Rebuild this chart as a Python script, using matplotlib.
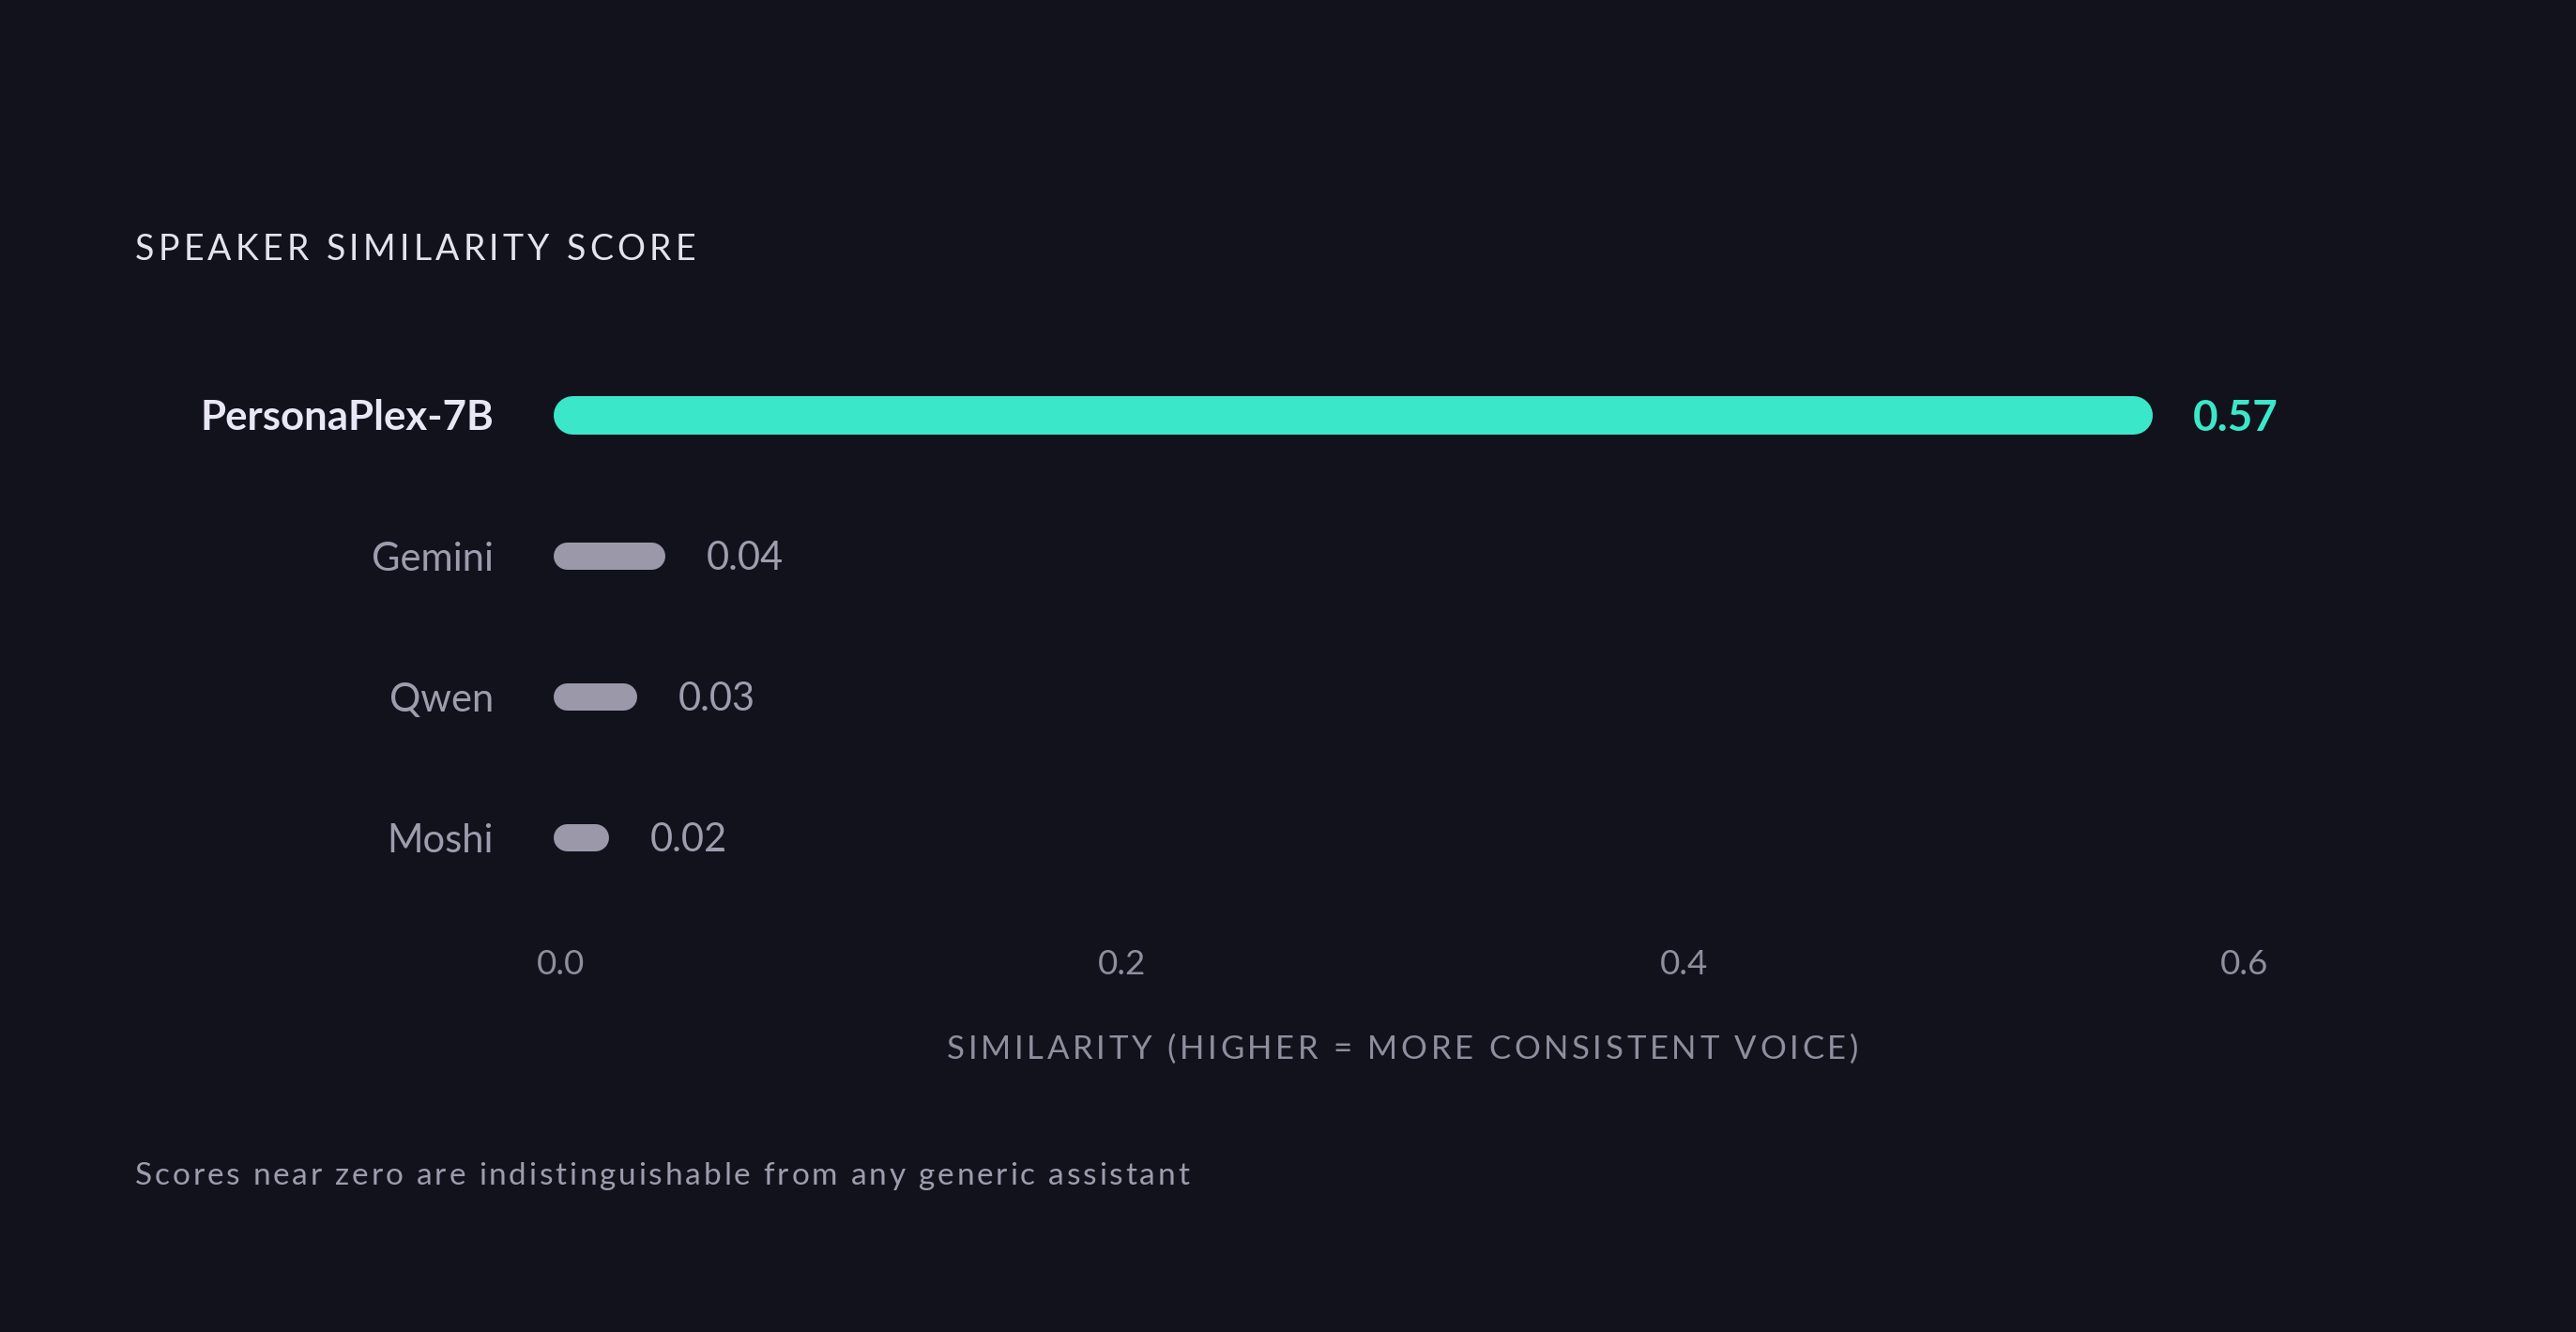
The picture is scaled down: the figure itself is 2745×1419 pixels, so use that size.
import matplotlib
matplotlib.use("Agg")
import matplotlib.pyplot as plt
from matplotlib.font_manager import FontProperties
from matplotlib.transforms import ScaledTranslation

# data
models = ["PersonaPlex-7B", "Gemini", "Qwen", "Moshi"]
scores = [0.57, 0.04, 0.03, 0.02]
score_labels = ["0.57", "0.04", "0.03", "0.02"]
xticks = [0.0, 0.2, 0.4, 0.6]
xtick_labels = ["0.0", "0.2", "0.4", "0.6"]

title = "SPEAKER SIMILARITY SCORE"
xlabel = "SIMILARITY (HIGHER = MORE CONSISTENT VOICE)"
footnote = "Scores near zero are indistinguishable from any generic assistant"

# style
FONT = "Lato"
BG = "#12121d"
TEAL = "#3ae8c9"
BAR_GRAY = "#9b99a9"
LABEL_HI = "#e9e6f5"
LABEL_GRAY = "#9f9cae"
TICK_GRAY = "#908e9e"
TITLE_COL = "#e4e2ee"

W, H = 2745, 1419
DPI = 100
PX = 72 / DPI  # points per pixel

fig = plt.figure(figsize=(W / DPI, H / DPI), dpi=DPI, facecolor=BG)

# plot area in pixels (from top-left)
ax_l, ax_r, ax_t, ax_b = 589, 2400, 367, 967
px_per_unit = 2990
ax = fig.add_axes([ax_l / W, 1 - ax_b / H, (ax_r - ax_l) / W, (ax_b - ax_t) / H])
ax.set_facecolor(BG)
ax.set_xlim(0, (ax_r - ax_l) / px_per_unit)
ax.set_ylim(len(models) - 0.5, -0.5)
for s in ax.spines.values():
    s.set_visible(False)

# bars as round-capped lines
for i, (m, v) in enumerate(zip(models, scores)):
    hi = i == 0
    h_px = 41 if hi else 29
    r = (h_px / 2) / px_per_unit
    ax.plot([r, v - r], [i, i], color=TEAL if hi else BAR_GRAY,
            lw=h_px * PX, solid_capstyle="round")
    ax.annotate(score_labels[i], (v, i), xytext=(44 * PX, -(17 if hi else 15) * PX),
                textcoords="offset points", ha="left", va="baseline",
                fontsize=33 if hi else 30, fontweight="bold" if hi else "normal",
                family=FONT, color=TEAL if hi else LABEL_GRAY)

ax.set_yticks(range(len(models)))
ax.set_yticklabels(models, family=FONT)
for i, t in enumerate(ax.get_yticklabels()):
    if i == 0:
        t.set_fontsize(31.5)
        t.set_fontweight("bold")
        t.set_color(LABEL_HI)
    else:
        t.set_fontsize(30)
        t.set_color(LABEL_GRAY)
ax.tick_params(axis="y", length=0, pad=63 * PX)

ax.set_xticks(xticks)
ax.set_xticklabels(xtick_labels, family=FONT, fontsize=26.5, color=TICK_GRAY, ha="center")
ax.tick_params(axis="x", length=0, pad=44 * PX)
nudge = ScaledTranslation(9 / DPI, 0, fig.dpi_scale_trans)
for t in ax.get_xticklabels():
    t.set_transform(t.get_transform() + nudge)

renderer = fig.canvas.get_renderer()


def tracked_text(s, x_px, y_px, size, width_px, color, ha="left"):
    """draw letter-spaced text so it spans width_px"""
    prop = FontProperties(family=FONT, size=size)

    def w(t):
        if not t.strip():
            return 0
        return renderer.get_text_width_height_descent(t, prop, ismath=False)[0]

    track = (width_px - w(s)) / (len(s) - 1)
    x0 = x_px if ha == "left" else x_px - width_px / 2
    for i, ch in enumerate(s):
        if ch == " ":
            continue
        xi = x0 + w(s[:i + 1]) - w(ch) + i * track
        fig.text(xi / W, 1 - y_px / H, ch, fontproperties=prop, color=color,
                 ha="left", va="baseline")


tracked_text(title, 144, 277, 27, 597, TITLE_COL)
tracked_text(xlabel, (ax_l + ax_r) / 2, 1128, 25, 971, TICK_GRAY, ha="center")
tracked_text(footnote, 144, 1262, 24, 1123, LABEL_GRAY)

fig.savefig("out.png", dpi=DPI, facecolor=BG)
